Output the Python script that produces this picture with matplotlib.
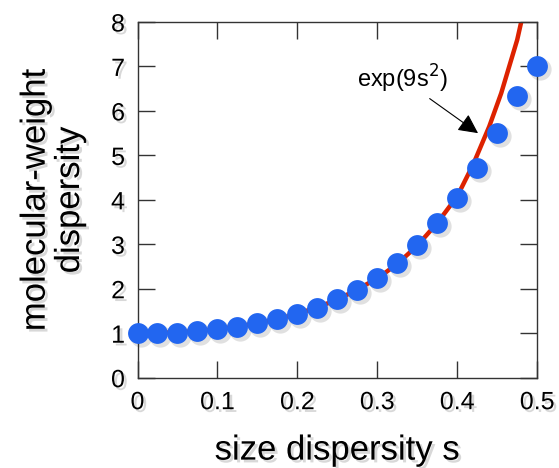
import numpy as np
import matplotlib.pyplot as plt
import matplotlib.patheffects as pe
from matplotlib.transforms import offset_copy

plt.rcParams['font.family'] = ['Liberation Sans', 'DejaVu Sans']

# dispersity points
s_pts = [0, 0.025, 0.05, 0.075, 0.1, 0.125, 0.15, 0.175, 0.2, 0.225, 0.25,
         0.275, 0.3, 0.325, 0.35, 0.375, 0.4, 0.425, 0.45, 0.475, 0.5]
d_pts = [1.0, 1.0, 1.01, 1.04, 1.09, 1.15, 1.22, 1.32, 1.43, 1.57, 1.76,
         1.98, 2.24, 2.57, 2.98, 3.48, 4.05, 4.71, 5.50, 6.34, 7.02]

# red curve, exp(9s^2)
s_curve = [0, 0.05, 0.1, 0.15, 0.2, 0.25, 0.3, 0.325, 0.35, 0.375, 0.4,
           0.42, 0.44, 0.455, 0.465, 0.475, 0.48]
d_curve = [1.0, 1.02, 1.09, 1.22, 1.43, 1.75, 2.23, 2.56, 2.97, 3.48, 4.08,
           4.8, 5.65, 6.4, 7.0, 7.6, 8.0]

xticks = [0, 0.1, 0.2, 0.3, 0.4, 0.5]
xticklabels = ['0', '0.1', '0.2', '0.3', '0.4', '0.5']
yticks = [0, 1, 2, 3, 4, 5, 6, 7, 8]

shadow = [pe.SimplePatchShadow(offset=(2, -2), shadow_rgbFace='0.5', alpha=0.3), pe.Normal()]

fig = plt.figure(figsize=(5.59, 4.68), dpi=100)
ax = fig.add_axes([0.246, 0.193, 0.715, 0.76])

ax.plot(s_curve, d_curve, color='#dd2200', lw=3.2, zorder=2, solid_capstyle='butt')

# soft drop shadow under the dots
sh = offset_copy(ax.transData, fig=fig, x=3, y=-3, units='dots')
ax.plot(s_pts, d_pts, 'o', color='0.45', alpha=0.22, ms=16, mec='none',
        transform=sh, zorder=2.5, clip_on=False)
ax.plot(s_pts, d_pts, 'o', color='#2266f0', ms=15, mec='none', zorder=3,
        clip_on=False)

ax.annotate('exp(9s$^2$)', xy=(0.426, 5.5), xytext=(0.331, 6.72),
            ha='center', va='center', fontsize=17,
            arrowprops=dict(arrowstyle='-|>', color='black', lw=0.8,
                            mutation_scale=30, shrinkA=1, shrinkB=0))

ax.set_xlim(0, 0.5)
ax.set_ylim(0, 8)
ax.set_xticks(xticks)
ax.set_xticklabels(xticklabels)
ax.set_yticks(yticks)
ax.tick_params(direction='in', length=12, width=1, top=True, right=True,
               labelsize=18, pad=9, color='#333333')
for sp in ax.spines.values():
    sp.set_color('#333333')
    sp.set_linewidth(1)

ax.set_xlabel('size dispersity s', fontsize=25, labelpad=14)
ax.set_ylabel('molecular-weight\ndispersity', fontsize=25, labelpad=18, linespacing=1.05)

for t in ax.get_xticklabels() + ax.get_yticklabels() + [ax.xaxis.label, ax.yaxis.label]:
    t.set_path_effects(shadow)

fig.savefig('out.png', dpi=100)
